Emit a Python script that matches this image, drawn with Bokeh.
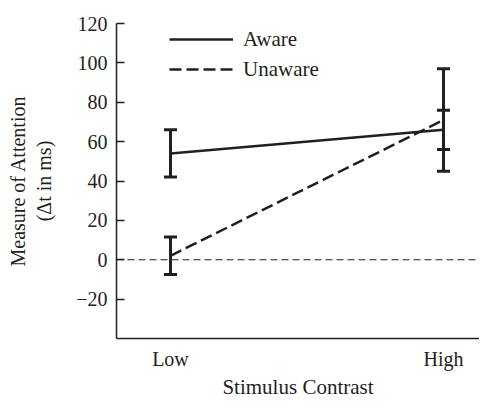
from bokeh.plotting import figure
from bokeh.models import (ColumnDataSource, Whisker, TeeHead, Span, Legend,
                          LegendItem, FixedTicker)
from bokeh.embed import file_html
from bokeh.resources import INLINE

# ---- data ----
categories = ["Low", "High"]
cat_pos = [0, 1]
aware_mean = [54, 66]
aware_err = [12, 10]
unaware_mean = [2, 71]
unaware_err = [9.5, 26]
y_ticks = [-20, 0, 20, 40, 60, 80, 100, 120]

INK = "#231f20"
FONT = "Liberation Serif"

W, H = 479, 401
B_LEFT, B_TOP, B_BOTTOM = 116, 23, 60
FRAME_H = H - B_TOP - B_BOTTOM

p = figure(width=W, height=H, output_backend="svg", toolbar_location=None,
           x_range=(-0.1978, 1.1319), y_range=(-40, 120),
           min_border_left=B_LEFT, min_border_right=0, min_border_top=B_TOP,
           min_border_bottom=B_BOTTOM)
p.outline_line_color = None
p.xgrid.visible = False
p.ygrid.visible = False
p.background_fill_color = "white"

aw_src = ColumnDataSource(dict(
    x=cat_pos, y=aware_mean,
    lo=[m - e for m, e in zip(aware_mean, aware_err)],
    hi=[m + e for m, e in zip(aware_mean, aware_err)]))
un_src = ColumnDataSource(dict(
    x=cat_pos, y=unaware_mean,
    lo=[m - e for m, e in zip(unaware_mean, unaware_err)],
    hi=[m + e for m, e in zip(unaware_mean, unaware_err)]))

zero = Span(location=0, dimension="width", line_color=INK, line_width=1.2,
            line_dash="7 4")
p.add_layout(zero)

r_aw = p.line("x", "y", source=aw_src, line_color=INK, line_width=2.5)
r_un = p.line("x", "y", source=un_src, line_color=INK, line_width=2.5,
              line_dash="12 5")

for src in (aw_src, un_src):
    w = Whisker(source=src, base="x", lower="lo", upper="hi",
                line_color=INK, line_width=3,
                upper_head=TeeHead(size=13, line_color=INK, line_width=3),
                lower_head=TeeHead(size=13, line_color=INK, line_width=3))
    p.add_layout(w)

ROW = 28
LEG_H = ROW + 2 + ROW
legend = Legend(items=[LegendItem(label="Aware", renderers=[r_aw]),
                       LegendItem(label="Unaware", renderers=[r_un])],
                location=(53, FRAME_H - 5 - LEG_H), orientation="vertical",
                border_line_color=None, background_fill_alpha=0,
                padding=0, margin=0, spacing=2,
                glyph_width=64, glyph_height=ROW, label_height=ROW,
                label_standoff=10,
                label_text_font=FONT, label_text_font_size="21px",
                label_text_color=INK)
p.add_layout(legend, "center")

# y axis
ya = p.yaxis[0]
ya.ticker = FixedTicker(ticks=y_ticks)
ya.major_tick_in = 8
ya.major_tick_out = 0
ya.minor_tick_line_color = None
ya.axis_line_color = INK
ya.axis_line_width = 1.5
ya.major_tick_line_color = INK
ya.major_tick_line_width = 1.5
ya.major_label_text_font = FONT
ya.major_label_text_font_size = "20px"
ya.major_label_text_color = INK
ya.major_label_standoff = 9
ya.major_label_overrides = {t: ("\u2212" + str(-t) if t < 0 else str(t)) for t in y_ticks}
ya.axis_label = "Measure of Attention\n(\u0394t in ms)"
ya.axis_label_text_font = FONT
ya.axis_label_text_font_style = "normal"
ya.axis_label_text_font_size = "20px"
ya.axis_label_text_color = INK
ya.axis_label_standoff = 18

# x axis
xa = p.xaxis[0]
xa.ticker = FixedTicker(ticks=cat_pos)
xa.major_label_overrides = {i: c for i, c in zip(cat_pos, categories)}
xa.major_tick_line_color = None
xa.minor_tick_line_color = None
xa.axis_line_color = INK
xa.axis_line_width = 1.5
xa.major_label_text_font = FONT
xa.major_label_text_font_size = "20px"
xa.major_label_text_color = INK
xa.major_label_standoff = 3
xa.axis_label = "Stimulus Contrast"
xa.axis_label_text_font = FONT
xa.axis_label_text_font_style = "normal"
xa.axis_label_text_font_size = "21px"
xa.axis_label_text_color = INK
xa.axis_label_standoff = 2

open("out.html", "w").write(file_html(p, INLINE))
